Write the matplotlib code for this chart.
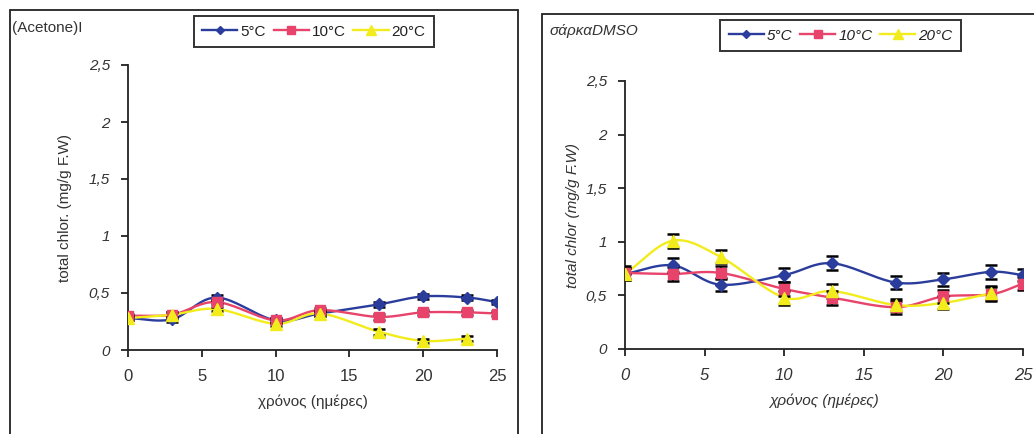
import numpy as np
import matplotlib
matplotlib.use("Agg")
import matplotlib.pyplot as plt
from matplotlib.patches import Rectangle
from matplotlib.ticker import FuncFormatter

plt.rcParams['font.family'] = ['Liberation Sans', 'DejaVu Sans']

# sampling days
days = [0, 3, 6, 10, 13, 17, 20, 23, 25]
series_labels = ['5°C', '10°C', '20°C']

# total chlorophyll, acetone extraction
acet_5 = [0.28, 0.27, 0.46, 0.26, 0.32, 0.40, 0.47, 0.46, 0.42]
acet_10 = [0.30, 0.31, 0.42, 0.26, 0.35, 0.29, 0.33, 0.33, 0.32]
acet_20 = [0.28, 0.31, 0.36, 0.23, 0.32, 0.16, 0.08, 0.10]
acet_err = [0.02, 0.02, 0.02, 0.02, 0.02, 0.025, 0.02, 0.02, 0.02]

# total chlorophyll, DMSO extraction
dmso_5 = [0.70, 0.78, 0.60, 0.69, 0.80, 0.62, 0.65, 0.72, 0.69]
dmso_10 = [0.71, 0.70, 0.71, 0.56, 0.48, 0.39, 0.49, 0.51, 0.61]
dmso_20 = [0.70, 1.01, 0.86, 0.48, 0.54, 0.41, 0.43, 0.52]
dmso_err = [0.06, 0.065, 0.06, 0.065, 0.065, 0.06, 0.06, 0.065, 0.06]

y_ticks = [0, 0.5, 1, 1.5, 2, 2.5]
x_ticks = [0, 5, 10, 15, 20, 25]

colors = ['#2b3d9c', '#e8436b', '#f2ec1c']
markers = ['D', 's', '^']
msizes = [6, 7, 8]


def smooth_path(x, y, n=20):
    """Catmull-Rom style path through the points, like a smoothed line chart."""
    x = np.asarray(x, float)
    y = np.asarray(y, float)
    if len(x) < 3:
        return x, y
    px = np.concatenate([[2 * x[0] - x[1]], x, [2 * x[-1] - x[-2]]])
    py = np.concatenate([[2 * y[0] - y[1]], y, [2 * y[-1] - y[-2]]])
    xs, ys = [], []
    for i in range(1, len(px) - 2):
        t = np.linspace(0, 1, n, endpoint=False)
        for arr, out in ((px, xs), (py, ys)):
            p0, p1, p2, p3 = arr[i - 1], arr[i], arr[i + 1], arr[i + 2]
            out.append(0.5 * ((2 * p1) + (-p0 + p2) * t
                              + (2 * p0 - 5 * p1 + 4 * p2 - p3) * t ** 2
                              + (-p0 + 3 * p1 - 3 * p2 + p3) * t ** 3))
    xs.append([x[-1]])
    ys.append([y[-1]])
    return np.concatenate(xs), np.concatenate(ys)


def comma(v, pos):
    return ('%g' % v).replace('.', ',')


fig = plt.figure(figsize=(10.34, 4.34), dpi=100)
fig.patch.set_facecolor('white')

# panel frames
fig.patches.append(Rectangle((10 / 1034, -0.01), (518 - 10) / 1034, 1 - 10 / 434 + 0.01,
                             transform=fig.transFigure, fill=False, edgecolor='#222222',
                             linewidth=1.3))
fig.patches.append(Rectangle((542 / 1034, -0.01), (1040 - 542) / 1034, 1 - 14 / 434 + 0.01,
                             transform=fig.transFigure, fill=False, edgecolor='#222222',
                             linewidth=1.3))


def draw_panel(rect, data, err, italic, ylabel, title, title_xy, legend_xy, ylab_x):
    ax = fig.add_axes(rect)
    style = 'italic' if italic else 'normal'
    handles = []
    for vals, c, m, ms, lab in zip(data, colors, markers, msizes, series_labels):
        xd = days[:len(vals)]
        sx, sy = smooth_path(xd, vals)
        ax.plot(sx, sy, color=c, lw=1.7, zorder=2)
        ax.errorbar(xd, vals, yerr=err[:len(vals)], fmt='none', ecolor='black',
                    elinewidth=1.3, capsize=4, capthick=1.8, zorder=3)
        ax.plot(xd, vals, linestyle='none', marker=m, markersize=ms, color=c,
                markeredgecolor=c, zorder=4)
        h, = ax.plot([], [], color=c, lw=1.7, marker=m, markersize=ms - 1.5)
        handles.append(h)
    ax.set_xlim(0, 25)
    ax.set_ylim(0, 2.5)
    ax.set_xticks(x_ticks)
    ax.set_yticks(y_ticks)
    ax.yaxis.set_major_formatter(FuncFormatter(comma))
    for s in ('top', 'right'):
        ax.spines[s].set_visible(False)
    for s in ('left', 'bottom'):
        ax.spines[s].set_linewidth(1.3)
        ax.spines[s].set_color('#222222')
    ax.tick_params(axis='both', direction='out', length=5, width=1.3, color='#222222')
    ax.tick_params(axis='x', labelsize=12, pad=9, labelcolor='#333333')
    ax.tick_params(axis='y', labelsize=11, pad=8, labelcolor='#333333')
    for t in ax.get_yticklabels():
        t.set_fontstyle('italic')
    for t in ax.get_xticklabels():
        t.set_fontstyle(style)
    ax.set_xlabel('χρόνος (ημέρες)', fontsize=11, fontstyle=style, labelpad=7,
                  color='#333333')
    ax.set_ylabel(ylabel, fontsize=11, fontstyle=style, color='#333333')
    ax.yaxis.set_label_coords(ylab_x, 0.5)
    fig.text(title_xy[0], title_xy[1], title, fontsize=11, fontstyle=style,
             color='#333333', ha='left', va='center')
    leg = fig.legend(handles, series_labels, loc='center', bbox_to_anchor=legend_xy,
                     ncol=3, frameon=True, fancybox=False, edgecolor='black',
                     fontsize=11, handlelength=2.3, columnspacing=0.5,
                     handletextpad=0.2, borderpad=0.55, borderaxespad=0)
    leg.get_frame().set_linewidth(1.4)
    for t in leg.get_texts():
        t.set_fontstyle(style)
        t.set_color('#222222')
    return ax


draw_panel([128 / 1034, 1 - 350 / 434, (497 - 128) / 1034, (350 - 65) / 434],
           [acet_5, acet_10, acet_20], acet_err, False,
           'total chlor. (mg/g F.W)', '(Acetone)I', (12 / 1034, 1 - 28 / 434),
           (314 / 1034, 1 - 31.5 / 434), -0.152)

draw_panel([625 / 1034, 1 - 349 / 434, (1023 - 625) / 1034, (349 - 81) / 434],
           [dmso_5, dmso_10, dmso_20], dmso_err, True,
           'total chlor (mg/g F.W)', 'σάρκαDMSO', (550 / 1034, 1 - 31 / 434),
           (840.5 / 1034, 1 - 35.5 / 434), -0.113)

fig.savefig('out.png', dpi=100, facecolor='white')
